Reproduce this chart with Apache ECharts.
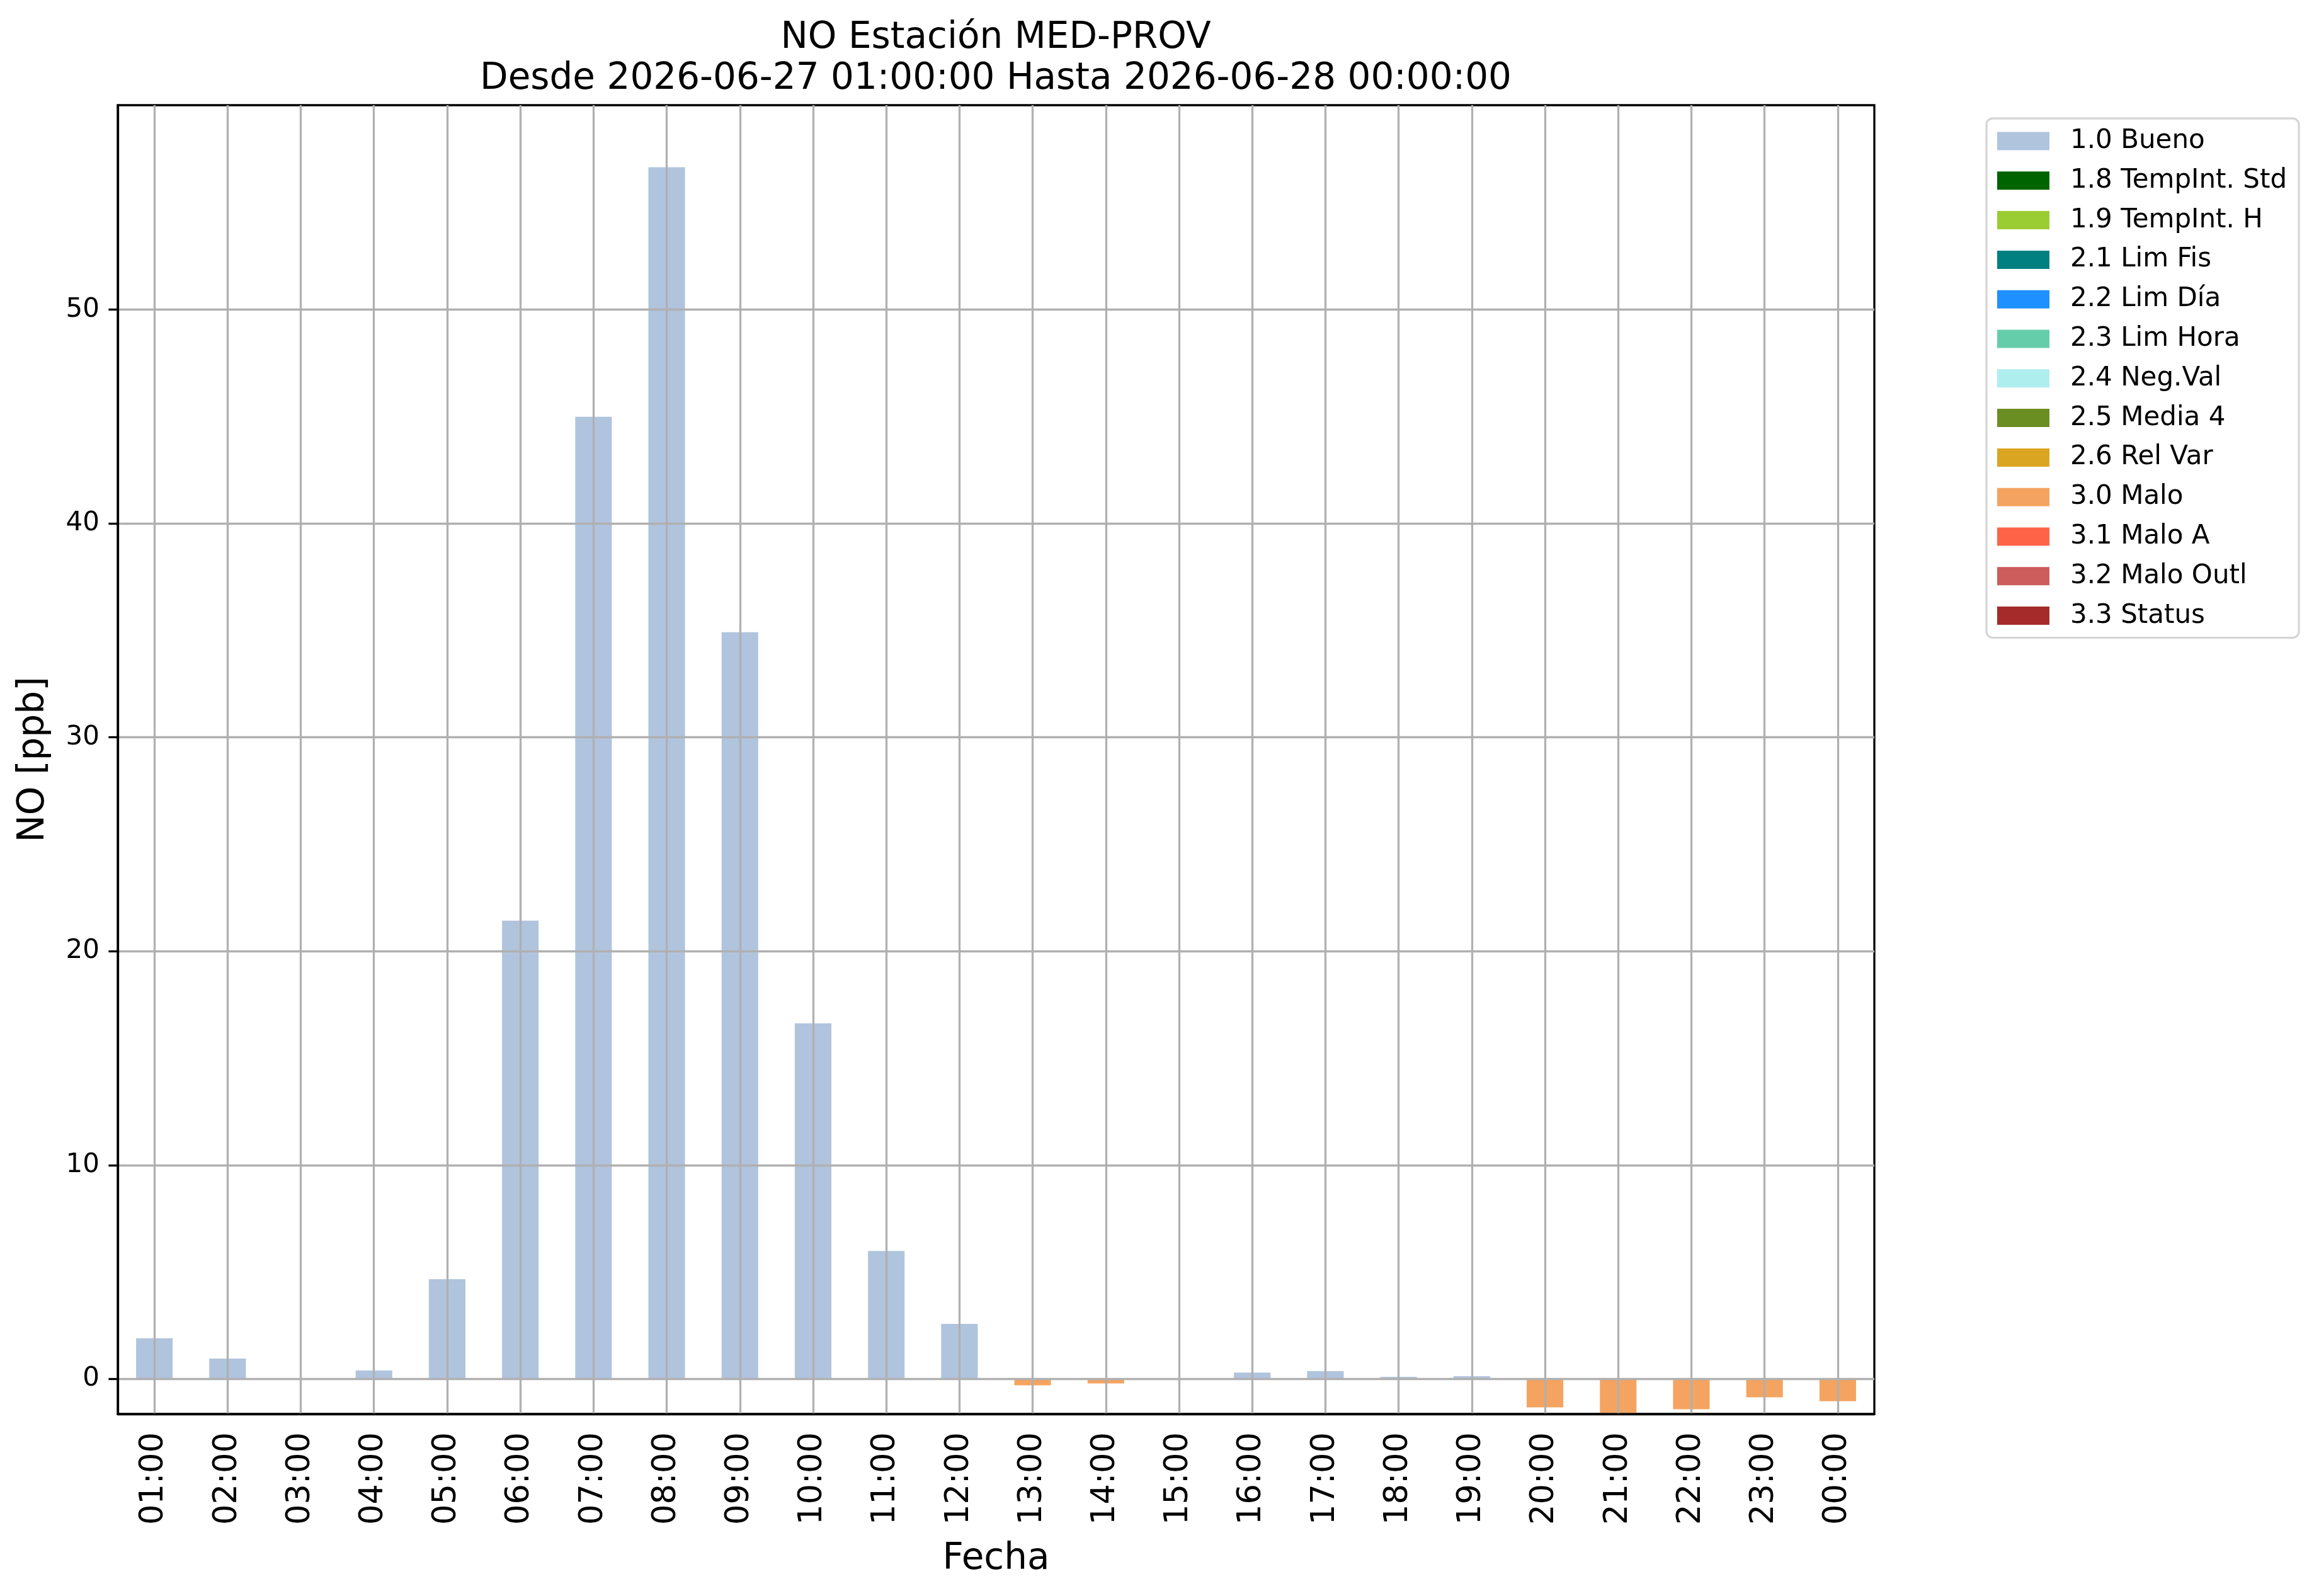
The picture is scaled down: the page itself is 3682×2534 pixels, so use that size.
<!DOCTYPE html>
<html>
<head>
<meta charset="utf-8">
<script src="https://cdn.jsdelivr.net/npm/echarts@6/dist/echarts.min.js"></script>
<style>
  html, body { margin: 0; padding: 0; background: #fff; }
  #root { width: 3682px; height: 2534px; }
</style>
</head>
<body>
<div id="root"></div>
<script>
// hours shown on the x axis
const hours = ["01:00", "02:00", "03:00", "04:00", "05:00", "06:00", "07:00", "08:00",
  "09:00", "10:00", "11:00", "12:00", "13:00", "14:00", "15:00", "16:00",
  "17:00", "18:00", "19:00", "20:00", "21:00", "22:00", "23:00", "00:00"];

// NO values per flag (null = no value with that flag)
const bueno = [1.90, 0.95, null, 0.39, 4.66, 21.43, 44.99, 56.66, 34.92, 16.63, 5.98, 2.57,
  null, null, null, 0.30, 0.36, 0.10, 0.13, null, null, null, null, null];
const malo = [null, null, null, null, null, null, null, null, null, null, null, null,
  -0.30, -0.21, null, null, null, null, null, -1.33, -1.59, -1.42, -0.86, -1.04];

const flagNames = ["1.0 Bueno", "1.8 TempInt. Std", "1.9 TempInt. H", "2.1 Lim Fis",
  "2.2 Lim Día", "2.3 Lim Hora", "2.4 Neg.Val", "2.5 Media 4", "2.6 Rel Var",
  "3.0 Malo", "3.1 Malo A", "3.2 Malo Outl", "3.3 Status"];
const flagColors = ["#B0C4DE", "#006400", "#9ACD32", "#008080", "#1E90FF", "#66CDAA",
  "#AFEEEE", "#6B8E23", "#DAA520", "#F4A460", "#FF6347", "#CD5C5C", "#A52A2A"];

const yTicks = [0, 10, 20, 30, 40, 50];
const titleLines = ["NO Estación MED-PROV", "Desde 2026-06-27 01:00:00 Hasta 2026-06-28 00:00:00"];

const FONT = "DejaVu Sans";
const LW = 3.3;

const empty = hours.map(() => null);
const seriesData = { "1.0 Bueno": bueno, "3.0 Malo": malo };

const series = flagNames.map((name, i) => ({
  name: name,
  type: "bar",
  stack: "total",
  barWidth: "50%",
  data: seriesData[name] || empty,
  itemStyle: { color: flagColors[i] },
}));

const chart = echarts.init(document.getElementById("root"), null, { renderer: "canvas" });

chart.setOption({
  animation: false,
  backgroundColor: "#fff",
  textStyle: { fontFamily: FONT },
  graphic: titleLines.map((t, i) => ({
    type: "text",
    x: 1581,
    y: 61 + i * 65,
    style: {
      text: t,
      fontFamily: FONT,
      fontSize: 58,
      fill: "#000",
      align: "center",
      verticalAlign: "middle",
    },
  })),
  grid: {
    left: 187,
    right: 706,
    top: 167,
    bottom: 289,
    show: true,
    borderColor: "#000",
    borderWidth: LW,
    containLabel: false,
  },
  legend: {
    orient: "vertical",
    left: 3154,
    top: 188,
    padding: [15, 19, 14, 17],
    itemWidth: 83,
    itemHeight: 29,
    itemGap: 20.8,
    icon: "rect",
    selectedMode: false,
    borderColor: "#d6d6d6",
    borderWidth: LW,
    borderRadius: 10,
    backgroundColor: "#fff",
    textStyle: { fontFamily: FONT, fontSize: 42, color: "#000", padding: [0, 0, 0, 28] },
    data: flagNames,
  },
  xAxis: {
    type: "category",
    data: hours,
    z: 5,
    name: "Fecha",
    nameLocation: "middle",
    nameGap: 202,
    nameTextStyle: { fontFamily: FONT, fontSize: 58, color: "#000" },
    axisLine: { onZero: false, lineStyle: { color: "#000", width: LW } },
    axisTick: { alignWithLabel: true, interval: 0, length: 14.6, lineStyle: { color: "#000", width: LW } },
    axisLabel: { interval: 0, rotate: 90, margin: 29, fontFamily: FONT, fontSize: 51, color: "#000" },
    splitLine: { show: true, alignWithLabel: true, interval: 0, lineStyle: { color: "#b0b0b0", width: LW } },
  },
  yAxis: {
    type: "value",
    min: -1.64,
    max: 59.56,
    z: 5,
    name: "NO [ppb]",
    nameLocation: "middle",
    nameGap: 104,
    nameTextStyle: { fontFamily: FONT, fontSize: 58, color: "#000" },
    axisLine: { show: true, lineStyle: { color: "#000", width: LW } },
    axisTick: { show: true, customValues: yTicks, length: 14.6, lineStyle: { color: "#000", width: LW } },
    axisLabel: { customValues: yTicks, margin: 29, fontFamily: FONT, fontSize: 42, color: "#000" },
    splitLine: { show: true, lineStyle: { color: "#b0b0b0", width: LW } },
  },
  series: series,
});
</script>
</body>
</html>
